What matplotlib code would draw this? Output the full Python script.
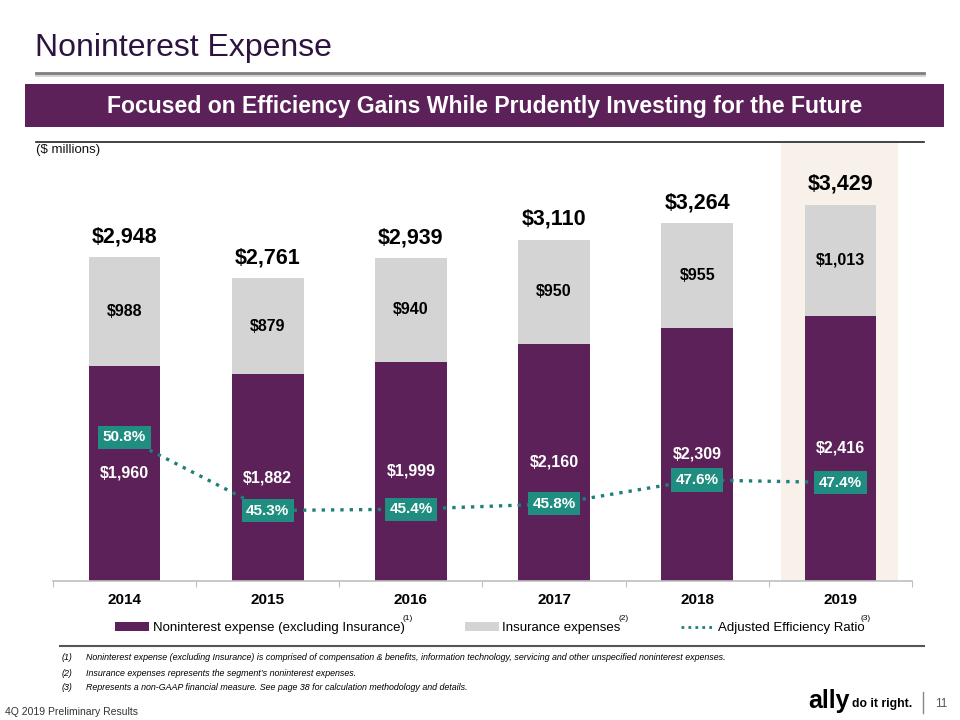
import matplotlib
matplotlib.use('Agg')
from matplotlib import pyplot as plt
from matplotlib.lines import Line2D
from matplotlib.patches import Patch, Rectangle
import numpy as np

plt.rcParams['font.family'] = ['Liberation Sans', 'DejaVu Sans']

# Data
years = ['2014', '2015', '2016', '2017', '2018', '2019']
nonint = [1960, 1882, 1999, 2160, 2309, 2416]
insurance = [988, 879, 940, 950, 955, 1013]
totals = [2948, 2761, 2939, 3110, 3264, 3429]
eff_ratio = [50.8, 45.3, 45.4, 45.8, 47.6, 47.4]

# Colours
purple = '#5B2158'
grey = '#D4D4D4'
teal_box = '#1F8E80'
teal_line = '#1F7F7A'
highlight = '#F8F1EA'
title_col = '#2D1440'

W, H = 960, 720
fig = plt.figure(figsize=(9.6, 7.2), dpi=100)


def fx(px):
    return px / W


def fy(py):
    return 1 - py / H


# Header
fig.text(fx(35), fy(48), 'Noninterest Expense', fontsize=23, color=title_col,
         va='center', ha='left')
fig.add_artist(Line2D([fx(36), fx(924)], [fy(75), fy(75)], color='#D0D0D0', lw=2))
fig.add_artist(Line2D([fx(36), fx(924)], [fy(73), fy(73)], color='#7F7F7F', lw=2))
fig.add_artist(Rectangle((fx(25), fy(127)), fx(944) - fx(25), fy(84) - fy(127),
                         transform=fig.transFigure, facecolor=purple, edgecolor='none'))
fig.text(fx(484.5), fy(106), 'Focused on Efficiency Gains While Prudently Investing for the Future',
         fontsize=16.6, fontweight='bold', color='white', ha='center', va='center')
fig.add_artist(Line2D([fx(36), fx(924)], [fy(142), fy(142)], color='#222222', lw=1.2))
fig.text(fx(36), fy(150), '($ millions)', fontsize=9.5, ha='left', va='center', color='#111111')

# Chart
ax = fig.add_axes([fx(53), fy(581), fx(912) - fx(53), (581 - 143) / H])
x = np.arange(len(years))
ax.axvspan(4.585, 5.40, color=highlight, zorder=0, lw=0)

ax.bar(x, nonint, width=0.5, color=purple, zorder=2, label='Noninterest expense (excluding Insurance)')
ax.bar(x, insurance, width=0.5, bottom=nonint, color=grey, zorder=2, label='Insurance expenses')

for i in range(len(years)):
    ax.text(x[i], nonint[i] / 2, '${:,}'.format(nonint[i]), ha='center', va='center',
            color='white', fontsize=11.5, fontweight='bold', zorder=3)
    ax.text(x[i], nonint[i] + insurance[i] / 2, '${:,}'.format(insurance[i]), ha='center',
            va='center', color='black', fontsize=11.5, fontweight='bold', zorder=3)
    ax.annotate('${:,}'.format(totals[i]), (x[i], totals[i]), xytext=(0, 14.5),
                textcoords='offset points', ha='center', va='center', fontsize=15.5,
                fontweight='bold', color='black')

ax.set_xlim(-0.5, 5.5)
ax.set_ylim(0, 3990)
ax.set_yticks([])
ax.set_xticks(np.arange(-0.5, 6, 1))
ax.set_xticklabels([])
ax.tick_params(axis='x', which='major', length=4, color='#BFBFBF', direction='out')
ax.set_xticks(x, minor=True)
ax.set_xticklabels(years, minor=True, fontsize=11, fontweight='bold')
ax.tick_params(axis='x', which='minor', length=0, pad=9)
for s in ['top', 'left', 'right']:
    ax.spines[s].set_visible(False)
ax.spines['bottom'].set_color('#BFBFBF')
ax.spines['bottom'].set_linewidth(1.2)
ax.patch.set_alpha(0)

ax2 = ax.twinx()
ax2.set_ylim(40, 40 + 438 / 13.3)
ax2.plot(x, eff_ratio, linestyle=(0, (1, 1.8)), lw=2.4, color=teal_line, zorder=2)
for i in range(len(years)):
    ax2.text(x[i], eff_ratio[i], '{:.1f}%'.format(eff_ratio[i]), ha='center', va='center',
             color='white', fontsize=11, fontweight='bold', zorder=3,
             bbox=dict(boxstyle='square,pad=0.3', facecolor=teal_box, edgecolor='none'))
ax2.set_yticks([])
for s in ax2.spines.values():
    s.set_visible(False)

# Legend
handles = [Patch(facecolor=purple, edgecolor='none'),
           Patch(facecolor=grey, edgecolor='none'),
           Line2D([0], [0], color=teal_line, lw=2, linestyle=(0, (1, 1.5)))]
labels = ['Noninterest expense (excluding Insurance)', 'Insurance expenses',
          'Adjusted Efficiency Ratio']
fig.legend(handles, labels, loc='center left', bbox_to_anchor=(fx(115), fy(628)),
           ncol=3, frameon=False, fontsize=9.5, handlelength=2.6, handleheight=0.6,
           handletextpad=0.25, columnspacing=4.55, borderpad=0, borderaxespad=0)
for px, sup in [(408, '(1)'), (624, '(2)'), (866, '(3)')]:
    fig.text(fx(px), fy(619), sup, fontsize=6, ha='center', va='center')

# Footnotes
fig.add_artist(Line2D([fx(60), fx(924)], [fy(646), fy(646)], color='#555555', lw=1.5))
notes = ['Noninterest expense (excluding Insurance) is comprised of compensation & benefits, '
         'information technology, servicing and other unspecified noninterest expenses.',
         'Insurance expenses represents the segment\u2019s noninterest expenses.',
         'Represents a non-GAAP financial measure. See page 38 for calculation methodology and details.']
for k, (py, note) in enumerate(zip([657, 674, 688], notes)):
    fig.text(fx(62), fy(py), '({})'.format(k + 1), fontsize=6.4, style='italic', va='center')
    fig.text(fx(86), fy(py), note, fontsize=6.4, style='italic', va='center')

# Footer
fig.text(fx(5), fy(712), '4Q 2019 Preliminary Results', fontsize=7.5, va='center',
         color='#333333')
fig.text(fx(808), fy(701), 'ally', fontsize=18, fontweight='bold', va='center')
fig.text(fx(852), fy(704), 'do it right.', fontsize=8.8, fontweight='bold', va='center')
fig.add_artist(Line2D([fx(923), fx(923)], [fy(692), fy(713)], color='#888888', lw=1))
fig.text(fx(935), fy(704), '11', fontsize=8.5, va='center', color='#555555')

fig.savefig('out.png', dpi=100)
